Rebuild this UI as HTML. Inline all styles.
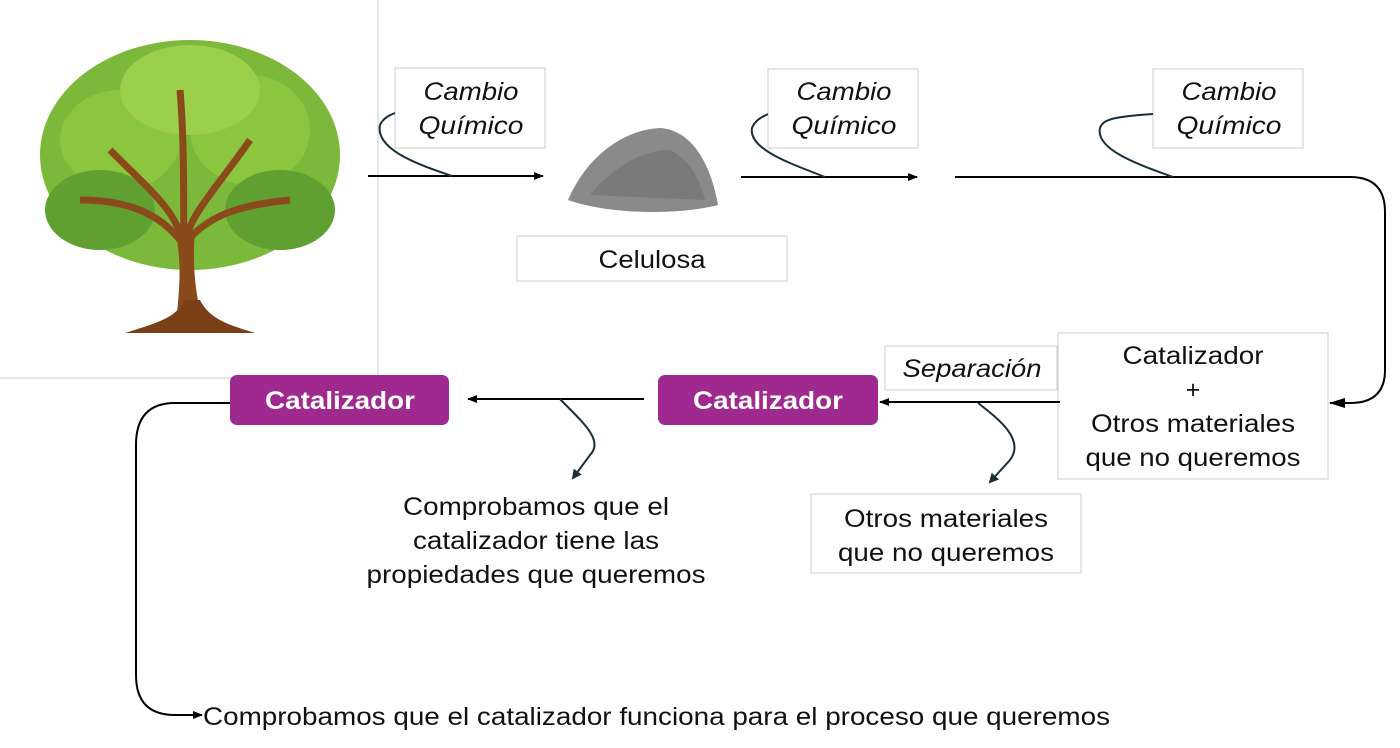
<!DOCTYPE html>
<html><head><meta charset="utf-8"><style>
html,body{margin:0;padding:0;background:#fff;width:1400px;height:748px;overflow:hidden}
</style></head><body>
<svg width="1400" height="748" viewBox="0 0 1400 748" xmlns="http://www.w3.org/2000/svg" font-family="'Liberation Sans', Arial, sans-serif">
<defs>
<marker id="ah" markerWidth="10" markerHeight="8" refX="9" refY="4" orient="auto" markerUnits="userSpaceOnUse"><path d="M0,0 L10,4 L0,8 Z" fill="#000"/></marker>
<marker id="ah2" markerWidth="16" markerHeight="10" refX="15" refY="5" orient="auto" markerUnits="userSpaceOnUse"><path d="M0,0 L16,5 L0,10 Z" fill="#000"/></marker>
<marker id="ad" markerWidth="10" markerHeight="10" refX="8" refY="5" orient="auto" markerUnits="userSpaceOnUse"><path d="M0,0 L10,5 L0,10 Z" fill="#17303a"/></marker>
</defs>
<line x1="378" y1="0" x2="378" y2="378" stroke="#ccc"/>
<line x1="0" y1="378" x2="378" y2="378" stroke="#ccc"/>
<g>
<ellipse cx="190" cy="155" rx="150" ry="115" fill="#7cb83a"/>
<ellipse cx="120" cy="140" rx="60" ry="50" fill="#8cc63f"/>
<ellipse cx="250" cy="130" rx="60" ry="55" fill="#8cc63f"/>
<ellipse cx="190" cy="90" rx="70" ry="45" fill="#9ccf4a"/>
<ellipse cx="100" cy="210" rx="55" ry="40" fill="#5fa030"/>
<ellipse cx="280" cy="210" rx="55" ry="40" fill="#5fa030"/>
<path d="M110,150 C150,190 175,210 182,240 M250,140 C215,190 190,215 186,240 M180,90 C185,150 183,200 184,240 M290,200 C240,205 210,215 188,240 M80,200 C130,200 160,215 180,240" stroke="#8a4a1c" stroke-width="7" fill="none"/>
<path d="M175,330 C180,290 182,260 175,230 L195,230 C192,265 195,295 205,330 Z" fill="#8a4a1c"/>
<path d="M125,333 C160,322 175,318 185,300 L200,300 C210,320 230,325 255,333 Z" fill="#7a3f16"/>
</g>
<path d="M568,200 C585,160 620,130 660,128 C690,130 710,160 718,205 C680,215 610,215 568,200 Z" fill="#8a8a8a"/>
<path d="M590,195 C610,170 640,150 670,150 C690,160 700,180 705,200 Z" fill="#6f6f6f" opacity=".6"/>
<g fill="#fff" stroke="#ccc">
<rect x="395" y="68" width="150" height="80"/>
<rect x="768" y="69" width="150" height="79"/>
<rect x="1153" y="69" width="150" height="79"/>
<rect x="517" y="236" width="270" height="45"/>
<rect x="885" y="346" width="172" height="44"/>
<rect x="1058" y="333" width="270" height="146"/>
<rect x="811" y="494" width="270" height="79"/>
</g>
<g font-style="italic" font-size="25" text-anchor="middle" fill="#111" lengthAdjust="spacingAndGlyphs">
<text x="471" y="100" textLength="95" lengthAdjust="spacingAndGlyphs">Cambio</text><text x="471" y="134" textLength="105" lengthAdjust="spacingAndGlyphs">Químico</text>
<text x="844" y="100" textLength="95" lengthAdjust="spacingAndGlyphs">Cambio</text><text x="844" y="134" textLength="105" lengthAdjust="spacingAndGlyphs">Químico</text>
<text x="1229" y="100" textLength="95" lengthAdjust="spacingAndGlyphs">Cambio</text><text x="1229" y="134" textLength="105" lengthAdjust="spacingAndGlyphs">Químico</text>
<text x="972" y="377" textLength="139" lengthAdjust="spacingAndGlyphs">Separación</text>
</g>
<g font-size="25" text-anchor="middle" fill="#111">
<text x="652" y="268" textLength="107" lengthAdjust="spacingAndGlyphs">Celulosa</text>
<text x="1193" y="364" textLength="141" lengthAdjust="spacingAndGlyphs">Catalizador</text>
<text x="1193" y="398">+</text>
<text x="1193" y="432" textLength="204" lengthAdjust="spacingAndGlyphs">Otros materiales</text>
<text x="1193" y="466" textLength="215" lengthAdjust="spacingAndGlyphs">que no queremos</text>
<text x="946" y="527" textLength="204" lengthAdjust="spacingAndGlyphs">Otros materiales</text>
<text x="946" y="561" textLength="216" lengthAdjust="spacingAndGlyphs">que no queremos</text>
<text x="536" y="515" textLength="266" lengthAdjust="spacingAndGlyphs">Comprobamos que el</text>
<text x="536" y="549" textLength="246" lengthAdjust="spacingAndGlyphs">catalizador tiene las</text>
<text x="536" y="583" textLength="339" lengthAdjust="spacingAndGlyphs">propiedades que queremos</text>
<text x="203" y="725" text-anchor="start" textLength="907" lengthAdjust="spacingAndGlyphs">Comprobamos que el catalizador funciona para el proceso que queremos</text>
</g>
<rect x="230" y="375" width="219" height="50" rx="7" fill="#a0298f"/>
<rect x="658" y="375" width="220" height="50" rx="7" fill="#a0298f"/>
<g font-size="25" font-weight="bold" text-anchor="middle" fill="#fff">
<text x="340" y="409" textLength="150" lengthAdjust="spacingAndGlyphs">Catalizador</text>
<text x="768" y="409" textLength="150" lengthAdjust="spacingAndGlyphs">Catalizador</text>
</g>
<g stroke="#000" stroke-width="2" fill="none">
<line x1="368" y1="176" x2="543" y2="176" marker-end="url(#ah)"/>
<line x1="741" y1="177" x2="917" y2="177" marker-end="url(#ah)"/>
<path d="M955,177 L1350,177 Q1385,177 1385,212 L1385,370 Q1385,403 1350,403 L1330,403" marker-end="url(#ah2)"/>
<line x1="1060" y1="402" x2="880" y2="402" marker-end="url(#ah)"/>
<line x1="644" y1="399" x2="468" y2="399" marker-end="url(#ah)"/>
<path d="M230,403 L175,403 Q136,403 136,445 L136,675 Q136,715 175,715 L202,715" marker-end="url(#ah)"/>
</g>
<g stroke="#17303a" stroke-width="2" fill="none">
<path d="M452,176 C420,165 375,150 380,125 C383,118 390,115 395,113"/>
<path d="M825,177 C795,165 748,150 752,128 C755,120 762,117 768,114"/>
<path d="M1173,177 C1140,165 1095,150 1100,128 C1103,120 1110,117 1153,114"/>
<path d="M978,403 C1000,420 1025,440 1010,460 L990,482" marker-end="url(#ad)"/>
<path d="M560,399 C580,420 605,440 590,455 L573,478" marker-end="url(#ad)"/>
</g>
</svg>
</body></html>
